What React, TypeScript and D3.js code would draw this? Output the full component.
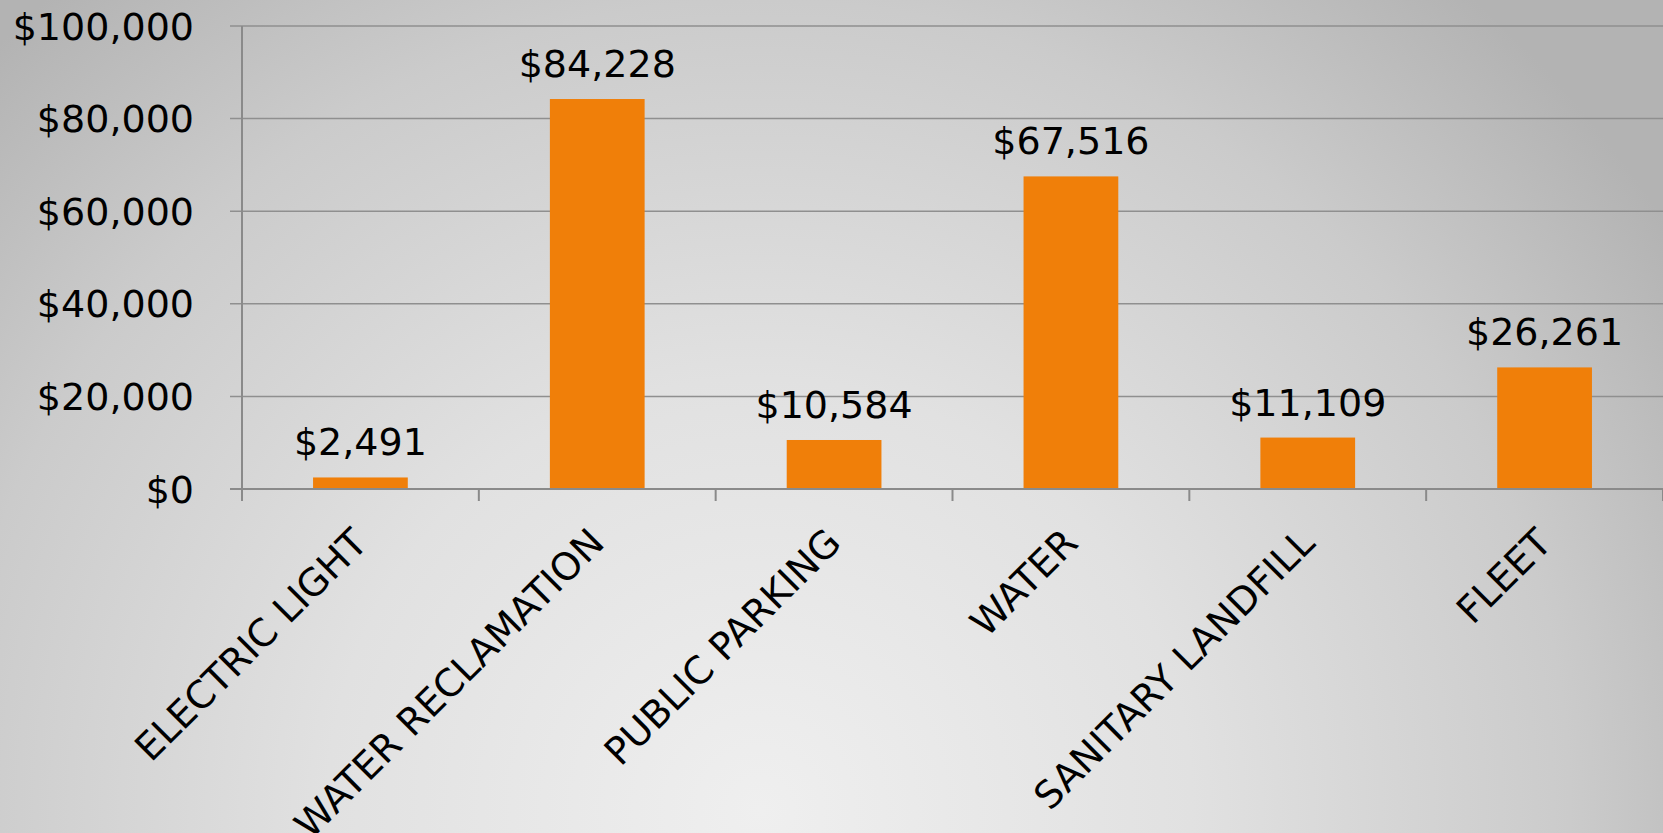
import React from "react";
import * as d3 from "d3";

const categories = [
  "ELECTRIC LIGHT",
  "WATER RECLAMATION",
  "PUBLIC PARKING",
  "WATER",
  "SANITARY LANDFILL",
  "FLEET",
];
const values = [2491, 84228, 10584, 67516, 11109, 26261];
const yTicks = [0, 20000, 40000, 60000, 80000, 100000];

const W = 1663;
const H = 833;
const left = 242;
const right = 1663;
const top = 26;
const bottom = 489;
const FONT = "'DejaVu Sans', Verdana, sans-serif";
const FS = 38;

export default function App() {
  const x = d3.scaleBand<string>().domain(categories).range([left, right]).paddingInner(0).paddingOuter(0);
  const y = d3.scaleLinear().domain([0, 100000]).range([bottom, top]);
  const bw = x.bandwidth() * 0.4;
  const money = (v: number) => "$" + d3.format(",")(v);
  const tickXs = categories.map((c) => x(c)!).concat([right]);

  return (
    <svg width={W} height={H} style={{ position: "absolute", left: 0, top: 0, display: "block" }}>
      <defs>
        <radialGradient id="bg" gradientUnits="userSpaceOnUse" cx={760} cy={810} r={1080}>
          <stop offset="0" stopColor="#efefef" />
          <stop offset="0.4" stopColor="#e1e1e1" />
          <stop offset="0.75" stopColor="#cbcbcb" />
          <stop offset="1" stopColor="#b3b3b3" />
        </radialGradient>
      </defs>
      <rect x={0} y={0} width={W} height={H} fill="url(#bg)" />
      {yTicks.map((t) => (
        <g key={t}>
          {t !== 0 && (
            <line x1={230} x2={right} y1={y(t)} y2={y(t)} stroke="#8f8f8f" strokeWidth={1.5} />
          )}
          <text x={194} y={y(t)} dy="0.36em" textAnchor="end" fontFamily={FONT} fontSize={FS} fill="#000">
            {money(t)}
          </text>
        </g>
      ))}
      {values.map((v, i) => {
        const cx = x(categories[i])! + x.bandwidth() / 2;
        return (
          <g key={categories[i]}>
            <rect x={cx - bw / 2} y={y(v)} width={bw} height={bottom - y(v)} fill="#F07F09" />
            <text x={cx} y={y(v) - 22} textAnchor="middle" fontFamily={FONT} fontSize={FS} fill="#000">
              {money(v)}
            </text>
            <text
              transform={`translate(${cx + 9},${bottom + 56}) rotate(-45)`}
              textAnchor="end"
              fontFamily={FONT}
              fontSize={FS}
              fill="#000"
            >
              {categories[i]}
            </text>
          </g>
        );
      })}
      <line x1={230} x2={right} y1={bottom} y2={bottom} stroke="#8a8a8a" strokeWidth={2} />
      <line x1={left} x2={left} y1={top} y2={bottom + 12} stroke="#8a8a8a" strokeWidth={2} />
      {tickXs.map((tx, i) => (
        <line key={i} x1={tx} x2={tx} y1={bottom} y2={bottom + 12} stroke="#8a8a8a" strokeWidth={2} />
      ))}
    </svg>
  );
}
